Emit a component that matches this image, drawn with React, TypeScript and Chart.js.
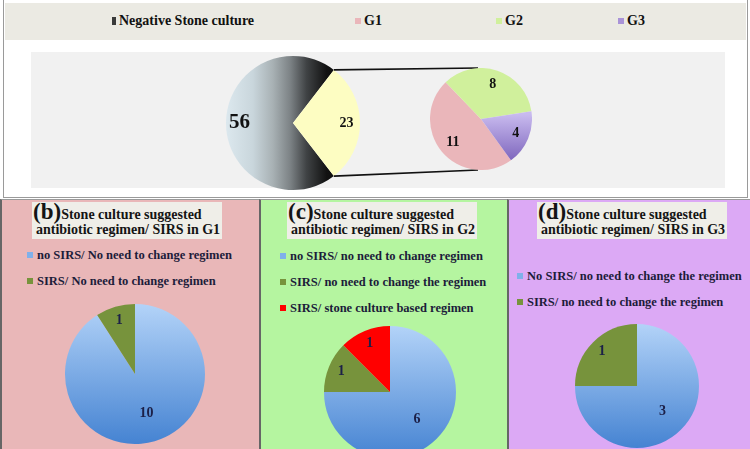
import { useEffect, useRef } from "react";
import { Chart, ArcElement, PieController, type Plugin } from "chart.js";

Chart.register(PieController, ArcElement);

// (a) overview
const mainLabels = ["Negative Stone culture", "Positive Stone culture"];
const mainValues = [56, 23];
const groupLabels = ["G1", "G2", "G3"];
const groupValues = [11, 8, 4];

// (b) G1
const g1Labels = ["no SIRS/ No need to change regimen", "SIRS/ No need to change regimen"];
const g1Values = [10, 1];
// (c) G2
const g2Labels = [
  "no SIRS/ no need to change regimen",
  "SIRS/ no need to change the regimen",
  "SIRS/ stone culture based regimen",
];
const g2Values = [6, 1, 1];
// (d) G3
const g3Labels = ["No SIRS/ no need to change the regimen", "SIRS/ no need to change the regimen"];
const g3Values = [3, 1];

const SERIF = '"Liberation Serif", "Times New Roman", serif';
const LABEL_NAVY = "#1c2048";

// slice colours
const BLUE = "#7fb0ea";
const OLIVE = "#77933c";
const RED = "#ff0000";
const GRAY = "#7d8588";
const YELLOW = "#fdfdc2";
const PINK = "#eab6ba";
const LIME = "#d0f09c";
const VIOLET = "#a993d8";

type Fill = string | ((ctx: any) => any);

const blueFill = (ctx: any) => {
  const area = ctx.chart.chartArea;
  if (!area) return BLUE;
  const g = ctx.chart.ctx.createLinearGradient(0, area.top, 0, area.bottom);
  g.addColorStop(0, "#b3d3f8");
  g.addColorStop(1, "#4583d2");
  return g;
};

const grayFill = (ctx: any) => {
  const area = ctx.chart.chartArea;
  if (!area) return GRAY;
  const g = ctx.chart.ctx.createLinearGradient(area.left, 0, area.right, 0);
  g.addColorStop(0, "#dce8ee");
  g.addColorStop(0.2, "#c9d6dc");
  g.addColorStop(0.35, "#a8b1b4");
  g.addColorStop(0.48, "#7c8285");
  g.addColorStop(0.6, "#404345");
  g.addColorStop(0.75, "#121212");
  g.addColorStop(1, "#000000");
  return g;
};

const violetFill = (ctx: any) => {
  const area = ctx.chart.chartArea;
  if (!area) return VIOLET;
  const g = ctx.chart.ctx.createLinearGradient(0, area.top + area.height * 0.45, 0, area.bottom);
  g.addColorStop(0, "#c9bbef");
  g.addColorStop(1, "#6f55b3");
  return g;
};

// per-slice fills, some of them gradients
const fills = (list: Fill[]) => (ctx: any) => {
  const v = list[ctx.dataIndex];
  return typeof v === "function" ? v(ctx) : v;
};

// numbers drawn on the slices
const valueLabels: Plugin<"pie"> = {
  id: "valueLabels",
  afterDatasetsDraw(chart, _args, opts: any) {
    const { ctx } = chart;
    const data = chart.data.datasets[0].data as number[];
    const total = data.reduce((a, b) => a + b, 0);
    chart.getDatasetMeta(0).data.forEach((el: any, i) => {
      const { x, y, startAngle, endAngle, outerRadius } = el.getProps(
        ["x", "y", "startAngle", "endAngle", "outerRadius"],
        true,
      );
      const mid = (startAngle + endAngle) / 2;
      const f = data[i] / total <= 0.25 ? opts.small ?? 0.78 : opts.large ?? 0.55;
      const size = opts.sizes?.[i] ?? 14;
      ctx.save();
      ctx.font = `bold ${size}px ${SERIF}`;
      ctx.fillStyle = opts.color ?? LABEL_NAVY;
      ctx.textAlign = "center";
      ctx.textBaseline = "middle";
      ctx.fillText(String(data[i]), x + Math.cos(mid) * outerRadius * f, y + Math.sin(mid) * outerRadius * f);
      ctx.restore();
    });
  },
};

// lines from the exploded slice of the main pie to the secondary pie
const connector: Plugin<"pie"> = {
  id: "connector",
  afterDatasetsDraw(chart, _args, opts: any) {
    const target: Chart | null = opts.target?.() ?? null;
    if (!target) return;
    const arc: any = chart.getDatasetMeta(0).data[opts.index];
    const t: any = target.getDatasetMeta(0).data[0];
    if (!arc || !t) return;
    const a = chart.canvas.getBoundingClientRect();
    const b = target.canvas.getBoundingClientRect();
    const tx = t.x + b.left - a.left;
    const ty = t.y + b.top - a.top;
    const { ctx } = chart;
    ctx.save();
    ctx.strokeStyle = "#111";
    ctx.lineWidth = 1.6;
    ctx.beginPath();
    ctx.moveTo(arc.x + Math.cos(arc.startAngle) * arc.outerRadius, arc.y + Math.sin(arc.startAngle) * arc.outerRadius);
    ctx.lineTo(tx - 3, ty - t.outerRadius);
    ctx.moveTo(arc.x + Math.cos(arc.endAngle) * arc.outerRadius, arc.y + Math.sin(arc.endAngle) * arc.outerRadius);
    ctx.lineTo(tx - 3, ty + t.outerRadius);
    ctx.stroke();
    ctx.restore();
  },
};

function baseOptions(extra: any = {}) {
  return {
    responsive: true,
    maintainAspectRatio: false,
    animation: false as const,
    events: [],
    ...extra,
    plugins: { legend: { display: false }, tooltip: { enabled: false }, ...(extra.plugins ?? {}) },
  };
}

function TopPies() {
  const bigRef = useRef<HTMLCanvasElement | null>(null);
  const smallRef = useRef<HTMLCanvasElement | null>(null);

  useEffect(() => {
    if (!bigRef.current || !smallRef.current) return;
    const small = new Chart(smallRef.current, {
      type: "pie",
      data: {
        labels: groupLabels,
        datasets: [{ data: groupValues, backgroundColor: fills([PINK, LIME, violetFill]), borderWidth: 0 }],
      },
      options: baseOptions({
        rotation: 144,
        plugins: { valueLabels: { color: "#111", small: 0.74, large: 0.72, sizes: [14, 14, 14] } },
      }),
      plugins: [valueLabels],
    });
    const total = mainValues.reduce((a, b) => a + b, 0);
    const big = new Chart(bigRef.current, {
      type: "pie",
      data: {
        labels: mainLabels,
        datasets: [{ data: mainValues, backgroundColor: fills([grayFill, YELLOW]), borderWidth: 0 }],
      },
      options: baseOptions({
        rotation: 90 + (180 * mainValues[1]) / total,
        layout: { padding: { right: 121 } },
        plugins: {
          valueLabels: { color: "#111", small: 0.78, large: 0.8, sizes: [21, 14] },
          connector: { index: 1, target: () => small },
        },
      }),
      plugins: [valueLabels, connector],
    });
    return () => {
      big.destroy();
      small.destroy();
    };
  }, []);

  return (
    <>
      <div style={{ position: "absolute", left: 226, top: 56, width: 255, height: 134 }}>
        <canvas ref={bigRef} />
      </div>
      <div style={{ position: "absolute", left: 430, top: 68, width: 102, height: 102 }}>
        <canvas ref={smallRef} />
      </div>
    </>
  );
}

type PanelProps = {
  letter: string;
  group: string;
  labels: string[];
  values: number[];
  colors: Fill[];
  markers: string[];
  left: number;
  width: number;
  bg: string;
  titleLeft: number;
  legendLeft: number;
  legendTop: number;
  pie: { left: number; top: number; size: number };
};

function GroupPanel(p: PanelProps) {
  const ref = useRef<HTMLCanvasElement | null>(null);

  useEffect(() => {
    if (!ref.current) return;
    const chart = new Chart(ref.current, {
      type: "pie",
      data: {
        labels: p.labels,
        datasets: [{ data: p.values, backgroundColor: fills(p.colors), borderWidth: 0 }],
      },
      options: baseOptions({ plugins: { valueLabels: { color: LABEL_NAVY, small: 0.8, large: 0.58 } } }),
      plugins: [valueLabels],
    });
    return () => chart.destroy();
  }, [p.labels, p.values]);

  return (
    <div
      style={{
        position: "absolute",
        left: p.left,
        top: 199,
        width: p.width,
        height: 250,
        background: p.bg,
        borderLeft: "2px solid #666",
        borderTop: "1px solid #9a9a9a",
        boxSizing: "border-box",
        overflow: "hidden",
      }}
    >
      <div
        style={{
          position: "absolute",
          left: p.titleLeft,
          top: 2,
          width: 190,
          height: 37,
          background: "#efeee8",
          color: "#141414",
          fontFamily: SERIF,
          fontWeight: "bold",
        }}
      >
        <div style={{ position: "absolute", left: 1, top: 0, whiteSpace: "nowrap", lineHeight: "20px" }}>
          <span style={{ fontSize: 23 }}>({p.letter})</span>
          <span style={{ fontSize: 14 }}>Stone culture suggested</span>
        </div>
        <div style={{ position: "absolute", left: 4, top: 19, whiteSpace: "nowrap", fontSize: 14, lineHeight: "17px" }}>
          antibiotic regimen/ SIRS in {p.group}
        </div>
      </div>
      {p.labels.map((label, i) => (
        <div
          key={label}
          style={{
            position: "absolute",
            left: p.legendLeft,
            top: p.legendTop + i * 26 - 9,
            height: 18,
            display: "flex",
            alignItems: "center",
            whiteSpace: "nowrap",
            fontFamily: SERIF,
            fontWeight: "bold",
            fontSize: 12.5,
            color: "#1c1c3a",
          }}
        >
          <span style={{ display: "inline-block", width: 6, height: 6, background: p.markers[i], marginRight: 4 }} />
          {label}
        </div>
      ))}
      <div
        style={{
          position: "absolute",
          left: p.pie.left - p.left,
          top: p.pie.top - 199,
          width: p.pie.size,
          height: p.pie.size,
        }}
      >
        <canvas ref={ref} />
      </div>
    </div>
  );
}

const topLegend = [
  { label: mainLabels[0], color: "#3a3a3a", x: 112, w: 4, h: 8 },
  { label: groupLabels[0], color: PINK, x: 355, w: 6, h: 6 },
  { label: groupLabels[1], color: LIME, x: 496, w: 6, h: 6 },
  { label: groupLabels[2], color: VIOLET, x: 618, w: 6, h: 6 },
];

export default function App() {
  return (
    <div style={{ position: "relative", width: 750, height: 449, overflow: "hidden", background: "#fff" }}>
      <style>{`body{margin:0}`}</style>
      {/* panel (a) */}
      <div
        style={{
          position: "absolute",
          left: 3,
          top: -2,
          width: 745,
          height: 200,
          border: "1px solid #9a9a9a",
          boxSizing: "border-box",
          background: "#fff",
        }}
      />
      <div style={{ position: "absolute", left: 5, top: 3, width: 741, height: 37, background: "#ebeae3" }} />
      {topLegend.map((it) => (
        <div
          key={it.label}
          style={{
            position: "absolute",
            left: it.x,
            top: 12,
            height: 18,
            display: "flex",
            alignItems: "center",
            whiteSpace: "nowrap",
            fontFamily: SERIF,
            fontWeight: "bold",
            fontSize: 14,
            color: "#111",
          }}
        >
          <span style={{ display: "inline-block", width: it.w, height: it.h, background: it.color, marginRight: 3 }} />
          {it.label}
        </div>
      ))}
      <div style={{ position: "absolute", left: 31, top: 52, width: 694, height: 136, background: "#f1f1f1" }} />
      <TopPies />

      <GroupPanel
        letter="b"
        group="G1"
        labels={g1Labels}
        values={g1Values}
        colors={[blueFill, OLIVE]}
        markers={[BLUE, OLIVE]}
        left={0}
        width={259}
        bg="#e9b7b8"
        titleLeft={30}
        legendLeft={25}
        legendTop={55}
        pie={{ left: 63, top: 303, size: 140 }}
      />
      <GroupPanel
        letter="c"
        group="G2"
        labels={g2Labels}
        values={g2Values}
        colors={[blueFill, OLIVE, RED]}
        markers={[BLUE, OLIVE, RED]}
        left={259}
        width={248}
        bg="#b5f5a0"
        titleLeft={26}
        legendLeft={19}
        legendTop={56}
        pie={{ left: 322, top: 325, size: 132 }}
      />
      <GroupPanel
        letter="d"
        group="G3"
        labels={g3Labels}
        values={g3Values}
        colors={[blueFill, OLIVE]}
        markers={[BLUE, OLIVE]}
        left={507}
        width={243}
        bg="#dca9f5"
        titleLeft={28}
        legendLeft={8}
        legendTop={76}
        pie={{ left: 573, top: 323, size: 124 }}
      />
    </div>
  );
}
